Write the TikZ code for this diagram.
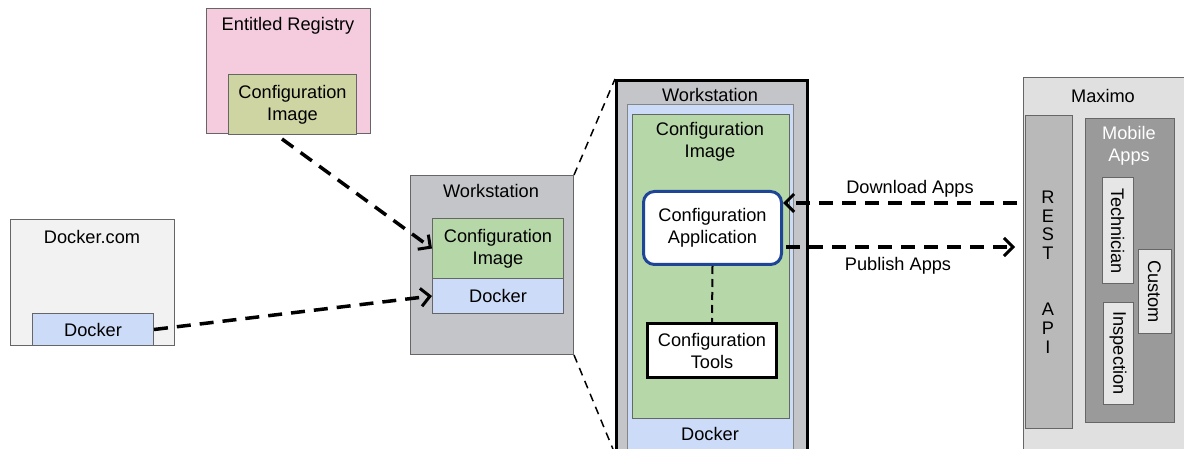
\documentclass[tikz,border=0pt]{standalone}
\usepackage{fontspec}
\setmainfont{Liberation Sans}
\usetikzlibrary{arrows.meta,positioning,calc}
\definecolor{pinkbg}{HTML}{F4CCDE}
\definecolor{olivebg}{HTML}{CFD5A2}
\definecolor{greenbg}{HTML}{B6D7A8}
\definecolor{bluebg}{HTML}{CCDBF8}
\definecolor{wsgray}{HTML}{C4C5C8}
\definecolor{lightbg}{HTML}{F2F2F2}
\definecolor{maxgray}{HTML}{E0E0E0}
\definecolor{restgray}{HTML}{B9B9B9}
\definecolor{mobgray}{HTML}{9A9A9A}
\definecolor{appgray}{HTML}{E6E6E6}
\definecolor{borderg}{HTML}{666666}
\definecolor{appblue}{HTML}{1F4596}
\tikzset{
  box/.style={draw=borderg, line width=1pt},
  lbl/.style={font=\fontsize{18.2}{22}\selectfont, align=center, inner sep=0pt},
  flow/.style={line width=3.5pt, dash pattern=on 14pt off 9pt, -{Straight Barb[length=9pt,width=18pt,line width=3pt]}},
  zoomline/.style={line width=1.5pt, dash pattern=on 8pt off 6pt},
  link/.style={line width=2pt, dash pattern=on 8pt off 5pt},
}
\begin{document}
\begin{tikzpicture}[x=1pt,y=-1pt]
\useasboundingbox (0,0) rectangle (1184,449);
% Entitled Registry
\draw[box, fill=pinkbg] (206,9) rectangle (370,134);
\node[lbl] (er) at (288,26) {Entitled Registry};
\node[box, fill=olivebg, minimum width=128pt, minimum height=60pt, inner sep=0pt, lbl, anchor=north west] (erimg) at (228,74) {Configuration\\Image};
% Docker.com
\draw[box, fill=lightbg] (10,220) rectangle (174,345);
\node[lbl] (dc) at (92,237) {Docker.com};
\node[box, fill=bluebg, minimum width=121pt, minimum height=32pt, inner sep=0pt, lbl, anchor=north west] (dcd) at (32,313) {Docker};
% small workstation
\node[box, fill=wsgray, minimum width=163pt, minimum height=179pt, inner sep=0pt, anchor=north west] (ws1) at (410,175) {};
\node[lbl] at (491,191) {Workstation};
\node[box, fill=greenbg, minimum width=131pt, minimum height=60pt, inner sep=0pt, lbl, anchor=north west] (ws1img) at (432,218) {Configuration\\Image};
\node[box, fill=bluebg, minimum width=131pt, minimum height=35pt, inner sep=0pt, lbl, anchor=north west] (ws1d) at (432,278) {Docker};
% big workstation
\node[draw=black, line width=3pt, fill=wsgray, minimum width=191pt, minimum height=372pt, inner sep=0pt, anchor=north west] (ws2) at (615,79) {};
\node[lbl] at (710,95) {Workstation};
\draw[draw=borderg!80, line width=1pt, fill=bluebg] (627,105) rectangle (793,449);
\node[lbl] (ws2d) at (710,434) {Docker};
\draw[box, fill=greenbg] (632,115) rectangle (789,418);
\node[lbl] (ws2img) at (710,142) {Configuration\\Image};
\node[draw=appblue, line width=3pt, rounded corners=11pt, fill=white, minimum width=138pt, minimum height=73pt, inner sep=0pt, lbl, anchor=north west] (capp) at (642,190) {Configuration\\Application};
\node[draw=black, line width=3pt, fill=white, minimum width=129pt, minimum height=54pt, inner sep=0pt, lbl, anchor=north west] (ctools) at (646,322) {Configuration\\Tools};
\draw[link] (capp.south) -- (ctools.north);
% zoom lines
\draw[zoomline] (ws1.north east) -- (ws2.north west);
\draw[zoomline] (ws1.south east) -- (ws2.south west);
% Maximo
\draw[draw=borderg, line width=1pt, fill=maxgray] (1184,78) -- (1023,78) -- (1023,449) -- (1184,449);
\node[lbl] (max) at (1103,96) {Maximo};
\node[box, fill=restgray, minimum width=47pt, minimum height=313pt, inner sep=0pt, anchor=north west] (rest) at (1025,115) {};
\node[lbl, align=center] at (1048,272) {R\\[-3.3pt]E\\[-3.3pt]S\\[-3.3pt]T\\[34pt]A\\[-3.3pt]P\\[-3.3pt]I};
\node[box, fill=mobgray, minimum width=89pt, minimum height=304pt, inner sep=0pt, anchor=north west] (mob) at (1085,118) {};
\node[lbl, text=white] at (1129,146) {Mobile\\Apps};
\node[box, fill=appgray, minimum width=106pt, minimum height=31pt, inner sep=0pt, lbl, rotate=-90] (tech) at (1117.5,231) {Technician};
\node[box, fill=appgray, minimum width=83pt, minimum height=33pt, inner sep=0pt, lbl, rotate=-90] (cust) at (1154.5,291.5) {Custom};
\node[box, fill=appgray, minimum width=102pt, minimum height=30pt, inner sep=0pt, lbl, rotate=-90] (insp) at (1118,353) {Inspection};
% flows
\coordinate (erstart) at (282,139);
\draw[flow] (erstart) -- (ws1img.west);
\draw[flow] (dcd.east) -- (ws1d.west);
\coordinate (dlstart) at (1017,203);
\coordinate (pubend) at (1015,247);
\draw[flow] (dlstart) -- (capp.east |- dlstart);
\draw[flow] ($(capp.east |- pubend)+(3,0)$) -- (pubend);
\node[lbl] (dl) at (910,189) {Download Apps};
\node[lbl] (pub) at (898,266) {Publish Apps};
\end{tikzpicture}
\end{document}
